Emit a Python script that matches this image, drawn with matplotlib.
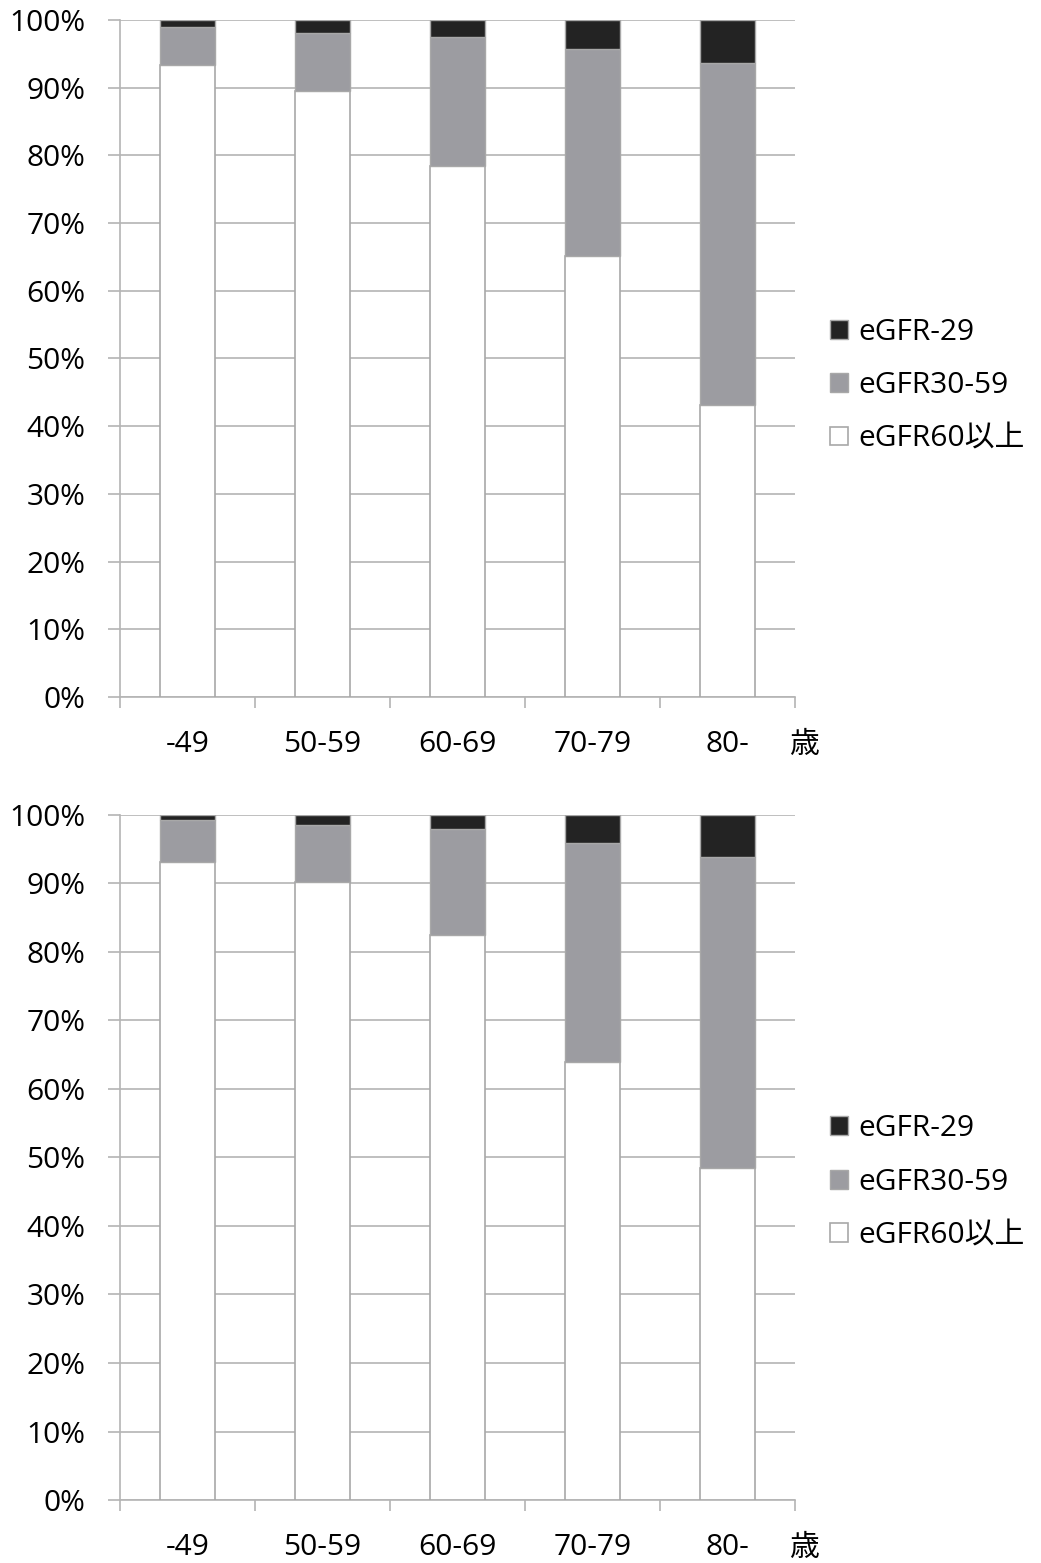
import numpy as np
import matplotlib.pyplot as plt
from matplotlib.ticker import FixedLocator

plt.rcParams['font.family'] = ['Open Sans', 'Noto Sans CJK JP', 'DejaVu Sans']

# age groups (歳) and share of each eGFR band, in %
ages = ['-49', '50-59', '60-69', '70-79', '80-']
labels = ['eGFR-29', 'eGFR30-59', 'eGFR60以上']

# upper panel
top_ge60 = [93.3, 89.5, 78.4, 65.2, 43.2]
top_30_59 = [5.7, 8.6, 19.1, 30.5, 50.5]
top_lt29 = [1.0, 1.9, 2.5, 4.3, 6.3]

# lower panel
bot_ge60 = [93.1, 90.2, 82.5, 64.0, 48.4]
bot_30_59 = [6.2, 8.3, 15.4, 31.9, 45.4]
bot_lt29 = [0.7, 1.5, 2.1, 4.1, 6.2]

c_black = '#232323'
c_gray = '#9c9ca1'
c_edge = '#a8a8a8'
c_grid = '#b4b4b4'
fs = 21.5

fig = plt.figure(figsize=(10.41, 15.63), dpi=100)


def panel(rect, ge60, mid, low, leg_y):
    ax = fig.add_axes(rect)
    x = np.arange(len(ages))
    w = 0.41
    b1 = ax.bar(x, ge60, w, color='white', edgecolor=c_edge, linewidth=1.2, zorder=3)
    b2 = ax.bar(x, mid, w, bottom=ge60, color=c_gray, edgecolor=c_edge, linewidth=1.0, zorder=3)
    b3 = ax.bar(x, low, w, bottom=np.add(ge60, mid), color=c_black, edgecolor=c_edge,
                linewidth=1.0, zorder=3)
    ax.set_xlim(-0.5, len(ages) - 0.5)
    ax.set_ylim(0, 100)
    ax.set_yticks(np.arange(0, 101, 10))
    ax.set_yticklabels([f'{v}%' for v in range(0, 101, 10)], fontsize=fs)
    ax.yaxis.grid(True, color=c_grid, linewidth=1.2, zorder=0)
    ax.tick_params(axis='y', length=9, width=1.2, color=c_grid, pad=16)

    ax.set_xticks(x)
    ax.set_xticklabels(ages, fontsize=fs)
    ax.tick_params(axis='x', which='major', length=0, pad=24)
    ax.xaxis.set_minor_locator(FixedLocator(np.arange(-0.5, len(ages), 1.0)))
    ax.tick_params(axis='x', which='minor', length=8, width=1.2, color=c_grid)

    for s in ['top', 'right']:
        ax.spines[s].set_visible(False)
    for s in ['left', 'bottom']:
        ax.spines[s].set_color(c_grid)
        ax.spines[s].set_linewidth(1.2)

    ax.text(1.013, -0.071, '歳', transform=ax.transAxes, fontsize=fs,
            ha='center', va='center')

    ax.legend([b3, b2, b1], labels, loc='center left', bbox_to_anchor=(1.034, leg_y),
              frameon=False, fontsize=fs, handlelength=0.6, handleheight=0.6,
              handletextpad=0.35, labelspacing=0.82, borderaxespad=0)
    return ax


panel([0.1153, 0.5541, 0.6484, 0.4331], top_ge60, top_30_59, top_lt29, 0.46)
panel([0.1153, 0.0403, 0.6484, 0.4383], bot_ge60, bot_30_59, bot_lt29, 0.464)

fig.savefig('out.png', dpi=100, facecolor='white')
